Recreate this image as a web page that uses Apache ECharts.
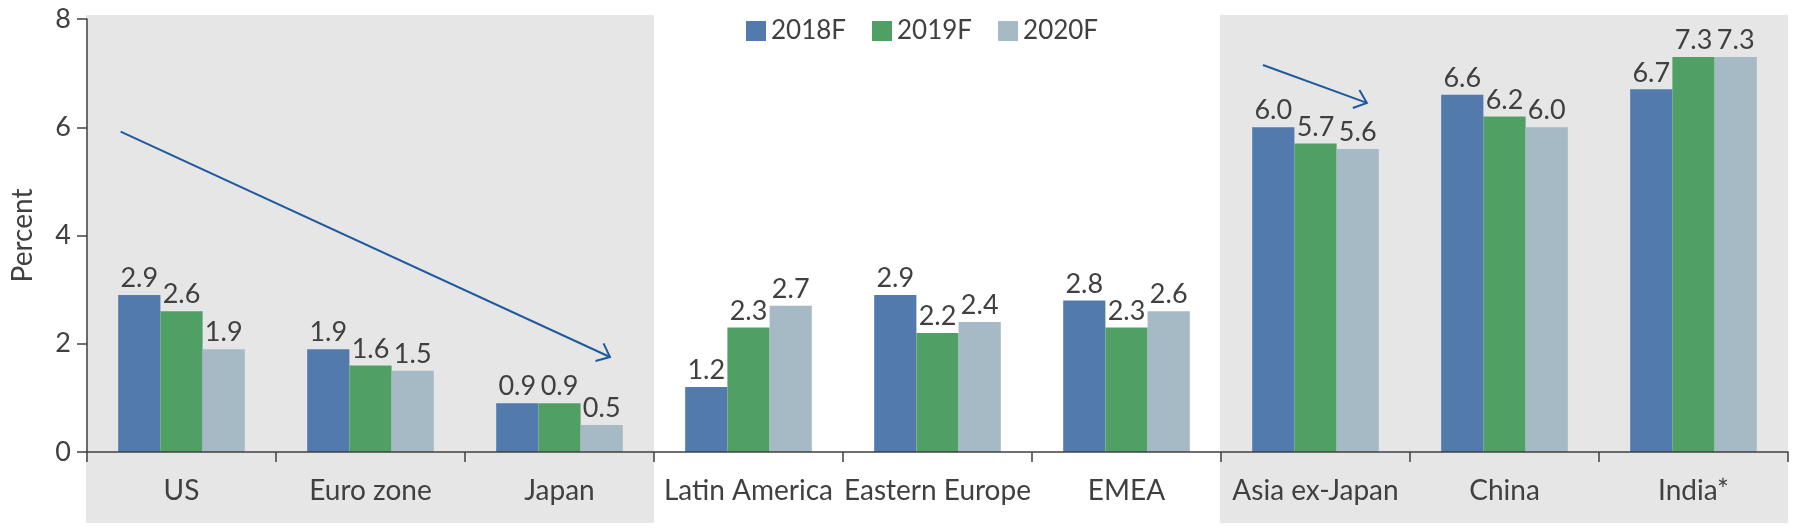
<!DOCTYPE html>
<html>
<head>
<meta charset="utf-8">
<script src="https://cdn.jsdelivr.net/npm/echarts@6/dist/echarts.min.js"></script>
<style>
html,body{margin:0;padding:0;background:#fff;}
#chart{width:1800px;height:530px;}
</style>
</head>
<body>
<div id="chart"></div>
<script>
var categories = ['US', 'Euro zone', 'Japan', 'Latin America', 'Eastern Europe', 'EMEA', 'Asia ex-Japan', 'China', 'India*'];
var seriesNames = ['2018F', '2019F', '2020F'];
var values2018 = [2.9, 1.9, 0.9, 1.2, 2.9, 2.8, 6.0, 6.6, 6.7];
var values2019 = [2.6, 1.6, 0.9, 2.3, 2.2, 2.3, 5.7, 6.2, 7.3];
var values2020 = [1.9, 1.5, 0.5, 2.7, 2.4, 2.6, 5.6, 6.0, 7.3];
var yTicks = [0, 2, 4, 6, 8];
// shaded groups: [first category index, end index (exclusive)]
var bands = [[0, 3], [6, 9]];
// trend arrows in data units: [x0 (category units), y0, x1, y1]
var arrows = [[0.178, 5.92, 2.767, 1.755], [6.222, 7.15, 6.772, 6.45]];

var colors = ['#527AAD', '#50A066', '#A5BAC4'];
var textColor = '#404040';
var fontFamily = 'Lato, "Open Sans", sans-serif';

var chart = echarts.init(document.getElementById('chart'), null, {renderer: 'canvas'});

function barSeries(name, vals, color) {
  return {
    name: name,
    type: 'bar',
    xAxisIndex: 0,
    yAxisIndex: 0,
    data: vals,
    z: 2,
    barGap: '0%',
    barCategoryGap: '33%',
    itemStyle: {color: color},
    label: {
      show: true,
      position: 'top',
      distance: 3,
      fontSize: 27,
      fontFamily: fontFamily,
      color: textColor,
      formatter: function (p) { return Number(p.value).toFixed(1); }
    }
  };
}

var option = {
  animation: false,
  backgroundColor: '#ffffff',
  textStyle: {fontFamily: fontFamily},
  legend: {
    data: seriesNames,
    left: 741,
    top: 13,
    icon: 'rect',
    itemWidth: 20,
    itemHeight: 20,
    itemGap: 26,
    textStyle: {fontSize: 26, color: textColor, fontFamily: fontFamily}
  },
  grid: {
    left: 87, right: 12, top: 19, bottom: 78,
    containLabel: false,
    outerBoundsMode: 'none'
  },
  xAxis: [{
    type: 'category',
    data: categories,
    z: 3,
    boundaryGap: true,
    axisLine: {show: true, lineStyle: {color: '#404040', width: 1.5}},
    axisTick: {show: true, length: 10, lineStyle: {color: '#404040', width: 1.5}},
    axisLabel: {fontSize: 28, color: textColor, fontFamily: fontFamily, margin: 25, interval: 0},
    splitLine: {show: false}
  }, {
    type: 'value',
    show: false,
    min: 0,
    max: categories.length,
    splitLine: {show: false}
  }],
  yAxis: [{
    type: 'value',
    min: yTicks[0],
    max: yTicks[yTicks.length - 1],
    interval: yTicks[1] - yTicks[0],
    z: 3,
    name: 'Percent',
    nameLocation: 'middle',
    nameGap: 50,
    nameTextStyle: {fontSize: 28, color: textColor, fontFamily: fontFamily},
    axisLine: {show: true, lineStyle: {color: '#404040', width: 1.5}},
    axisTick: {show: true, length: 10, lineStyle: {color: '#404040', width: 1.5}},
    axisLabel: {fontSize: 27, color: textColor, fontFamily: fontFamily, margin: 16},
    splitLine: {show: false}
  }],
  series: [
    {
      type: 'custom',
      name: 'bands',
      xAxisIndex: 1,
      yAxisIndex: 0,
      z: 1,
      silent: true,
      clip: false,
      data: bands,
      encode: {x: [0, 1]},
      renderItem: function (params, api) {
        var p0 = api.coord([api.value(0), yTicks[yTicks.length - 1]]);
        var p1 = api.coord([api.value(1), 0]);
        return {
          type: 'rect',
          shape: {x: p0[0] - 1, y: p0[1] - 4, width: p1[0] - p0[0] + 1, height: p1[1] - p0[1] + 4 + 71},
          style: {fill: '#E6E6E6'}
        };
      }
    },
    barSeries(seriesNames[0], values2018, colors[0]),
    barSeries(seriesNames[1], values2019, colors[1]),
    barSeries(seriesNames[2], values2020, colors[2]),
    {
      type: 'custom',
      name: 'arrows',
      xAxisIndex: 1,
      yAxisIndex: 0,
      z: 4,
      silent: true,
      clip: false,
      data: arrows,
      encode: {x: [0, 2], y: [1, 3]},
      renderItem: function (params, api) {
        var a = api.coord([api.value(0), api.value(1)]);
        var b = api.coord([api.value(2), api.value(3)]);
        var ang = Math.atan2(b[1] - a[1], b[0] - a[0]) + Math.PI;
        var L = 15, spread = 40 * Math.PI / 180;
        var c1 = [b[0] + L * Math.cos(ang + spread), b[1] + L * Math.sin(ang + spread)];
        var c2 = [b[0] + L * Math.cos(ang - spread), b[1] + L * Math.sin(ang - spread)];
        var st = {stroke: '#1F5A9E', lineWidth: 2, fill: null};
        return {
          type: 'group',
          children: [
            {type: 'line', shape: {x1: a[0], y1: a[1], x2: b[0], y2: b[1]}, style: st},
            {type: 'polyline', shape: {points: [c1, b, c2]}, style: st}
          ]
        };
      }
    }
  ]
};
chart.setOption(option);
</script>
</body>
</html>
